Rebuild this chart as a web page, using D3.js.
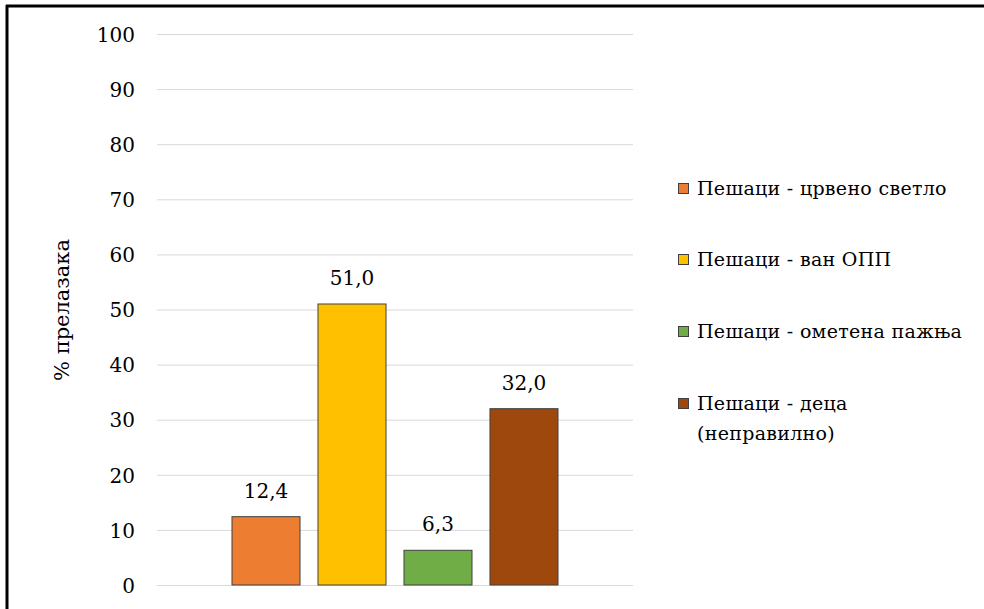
<!DOCTYPE html>
<html><head><meta charset="utf-8">
<script src="https://cdn.jsdelivr.net/npm/d3@7"></script>
<style>body{margin:0;background:#fff}svg{display:block}</style>
</head><body>
<script>
const series = ["Пешаци - црвено светло","Пешаци - ван ОПП","Пешаци - ометена пажња","Пешаци - деца (неправилно)"];
const legendLines = [["Пешаци - црвено светло"],["Пешаци - ван ОПП"],["Пешаци - ометена пажња"],["Пешаци - деца","(неправилно)"]];
const values = [12.4, 51.0, 6.3, 32.0];
const colors = ["#ED7D31","#FFC000","#70AD47","#9E480E"];
const yTicks = [0,10,20,30,40,50,60,70,80,90,100];
const yTitle = "% прелазака";

const W=984,H=609;
const font = "'DejaVu Serif', serif";
const svg = d3.select("body").append("svg").attr("width",W).attr("height",H);
svg.append("rect").attr("width",W).attr("height",H).attr("fill","#fff");
// frame
svg.append("line").attr("x1",6).attr("x2",W).attr("y1",6).attr("y2",6).attr("stroke","#000").attr("stroke-width",3);
svg.append("line").attr("x1",7).attr("x2",7).attr("y1",5).attr("y2",H).attr("stroke","#000").attr("stroke-width",3);

const y = d3.scaleLinear().domain([0,100]).range([585,34]);
const x = d3.scaleBand().domain(series).range([232,558]).paddingInner(0.209).paddingOuter(0);

const g = svg.append("g");
g.selectAll("line.grid").data(yTicks).join("line").attr("class","grid")
 .attr("x1",157).attr("x2",633).attr("y1",d=>y(d)+0.5).attr("y2",d=>y(d)+0.5)
 .attr("stroke","#d9d9d9").attr("stroke-width",1);

const axis = d3.axisLeft(y).tickValues(yTicks).tickSize(0).tickPadding(0).tickFormat(d=>d);
const ag = svg.append("g").attr("transform","translate(135,0)").call(axis);
ag.select(".domain").remove();
ag.selectAll("text").attr("font-family",font).attr("font-size",20).attr("fill","#000").attr("dy","0.36em");

g.selectAll("rect.bar").data(series).join("rect").attr("class","bar")
 .attr("x",d=>x(d)).attr("width",x.bandwidth())
 .attr("y",(d,i)=>y(values[i])).attr("height",(d,i)=>y(0)-y(values[i]))
 .attr("fill",(d,i)=>colors[i]).attr("stroke","#404040").attr("stroke-width",1);

g.selectAll("text.lbl").data(series).join("text").attr("class","lbl")
 .attr("x",d=>x(d)+x.bandwidth()/2).attr("y",(d,i)=>y(values[i])-19)
 .attr("text-anchor","middle").attr("font-family",font).attr("font-size",20).attr("fill","#000")
 .text((d,i)=>values[i].toFixed(1).replace(".",","));

svg.append("text").attr("transform","translate(69,310) rotate(-90)")
 .attr("text-anchor","middle").attr("font-family",font).attr("font-size",21).attr("fill","#000").text(yTitle);

const legY = [189,260,332,404];
const lg = svg.append("g");
legendLines.forEach((lines,i)=>{
  lg.append("rect").attr("x",678.5).attr("y",legY[i]-5.5).attr("width",10).attr("height",10)
    .attr("fill",colors[i]).attr("stroke","#404040").attr("stroke-width",1);
  const t = lg.append("text").attr("x",697).attr("y",legY[i]+6).attr("font-family",font).attr("font-size",19)
    .attr("letter-spacing",0.3).attr("fill","#000");
  lines.forEach((l,j)=>t.append("tspan").attr("x",697).attr("dy",j?30:0).text(l));
});
</script>
</body></html>
